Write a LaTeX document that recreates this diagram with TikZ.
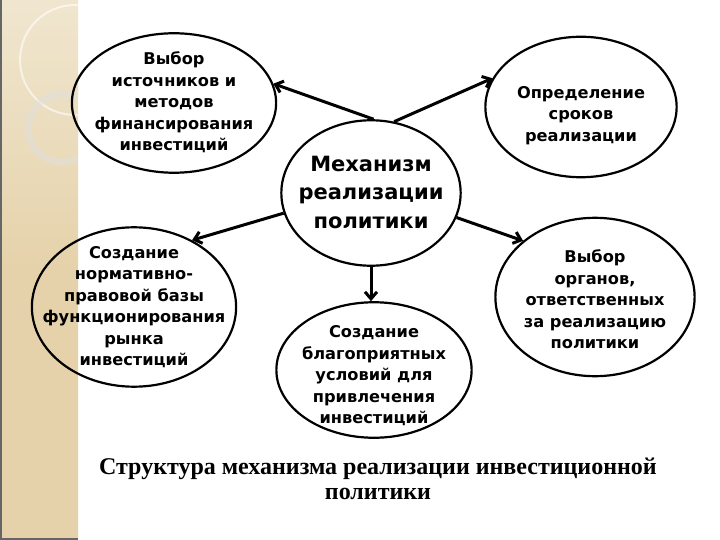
\documentclass[tikz,border=0pt]{standalone}
\usepackage{fontspec}
\setmainfont{DejaVu Sans}
\newfontfamily\capfont{Liberation Serif}
\usetikzlibrary{arrows.meta, shapes.geometric}

\definecolor{barlight}{HTML}{F0E6CF}
\definecolor{bardark}{HTML}{E5D2AA}

\newcommand{\elltext}[2][5bp]{\smash{\makebox[0pt]{\raisebox{-#1}{\begin{tabular}{@{}c@{}}#2\end{tabular}}}}}

\begin{document}
\begin{tikzpicture}[x=1bp, y=-1bp,
  oval/.style={draw, ellipse, line width=2.2bp, inner sep=0pt,
    font=\bfseries\fontsize{16.2bp}{21.5bp}\selectfont},
  arrow/.style={-{Straight Barb[length=7bp, width=12bp]}, line width=3bp}
]
\useasboundingbox (0,0) rectangle (720,540);
\fill[white] (0,0) rectangle (720,540);

\begin{scope}
\clip (0,0) rectangle (78,540);
\shade[top color=barlight, bottom color=bardark, middle color=bardark] (0,0) rectangle (78,540);
\draw[white, opacity=0.6, line width=2bp] (75,60) circle[radius=55];
\draw[black!12, opacity=0.5, line width=7bp] (62,128) circle[radius=34];
\end{scope}
\draw[black!60, line width=1.5bp] (0.75,0) -- (0.75,540);
\draw[black!60, line width=1.5bp] (0,539) -- (78,539);

\node[oval, minimum width=205, minimum height=140] (choice) at (174,103)
  {\elltext{Выбор\\источников и\\методов\\финансирования\\инвестиций}};
\node[oval, minimum width=192, minimum height=141] (terms) at (581,107)
  {\elltext[13bp]{Определение\\сроков\\реализации}};
\node[oval, minimum width=180, minimum height=146,
  font=\bfseries\fontsize{21bp}{28.5bp}\selectfont] (mech) at (371,193)
  {\elltext[6bp]{Механизм\\реализации\\политики}};
\node[oval, minimum width=205, minimum height=160] (base) at (134,307)
  {\elltext{Создание\\нормативно-\\правовой базы\\функционирования\\рынка\\инвестиций}};
\node[oval, minimum width=200, minimum height=159] (organs) at (595,297)
  {\elltext[9bp]{Выбор\\органов,\\ответственных\\за реализацию\\политики}};
\node[oval, minimum width=196, minimum height=136] (cond) at (374,370)
  {\elltext[11bp]{Создание\\благоприятных\\условий для\\привлечения\\инвестиций}};

\node[font=\capfont\bfseries\fontsize{24bp}{25bp}\selectfont, align=center] (title) at (378,479)
  {Структура механизма реализации инвестиционной\\политики};

\draw[arrow] (mech.88) -- (choice.11);
\draw[arrow] (mech.72) -- (terms.162);
\draw[arrow] (mech.193) -- (base.49);
\draw[arrow] (mech.344) -- (organs.142);
\draw[arrow] (mech.south) -- (mech.south |- cond.north);

\end{tikzpicture}
\end{document}
